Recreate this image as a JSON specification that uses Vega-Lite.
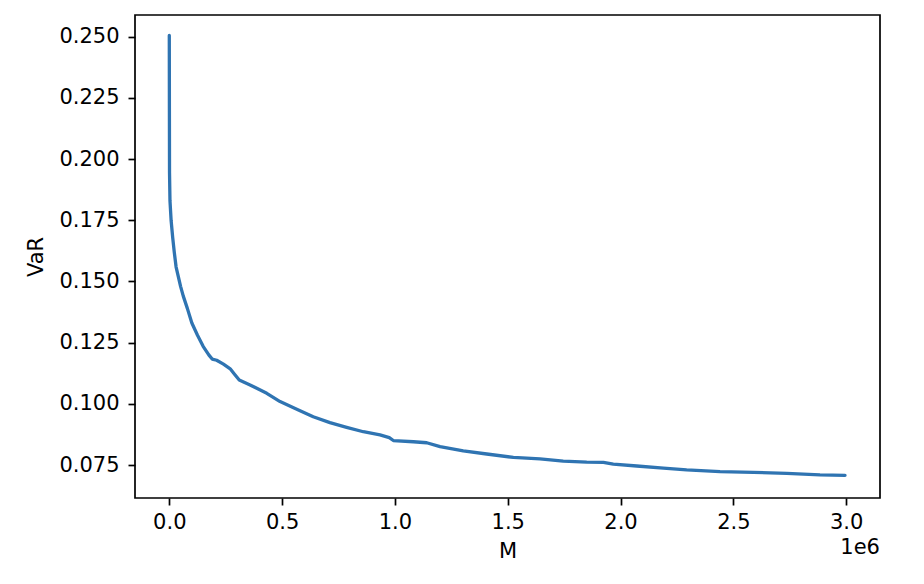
{
  "$schema": "https://vega.github.io/schema/vega-lite/v6.json",
  "autosize": {"type": "none"},
  "width": 745,
  "height": 483,
  "padding": {"left": 135, "top": 15, "right": 44, "bottom": 86},
  "background": "white",
  "config": {
    "view": {"stroke": "black", "strokeWidth": 1.7},
    "font": "DejaVu Sans",
    "axis": {
      "domain": false,
      "grid": false,
      "tickColor": "black",
      "tickSize": 7,
      "tickWidth": 1.7,
      "labelFont": "DejaVu Sans",
      "labelFontSize": 21,
      "labelColor": "#000000",
      "titleFont": "DejaVu Sans",
      "titleFontSize": 21,
      "titleFontWeight": "normal",
      "titleColor": "#000000"
    }
  },
  "title": {
    "text": "1e6",
    "orient": "bottom",
    "anchor": "end",
    "frame": "group",
    "font": "DejaVu Sans",
    "fontSize": 21,
    "fontWeight": "normal",
    "color": "#000000",
    "dy": -28
  },
  "data": {
    "values": [
      {"M": 0, "VaR": 0.2505},
      {"M": 500, "VaR": 0.2200},
      {"M": 1000, "VaR": 0.1945},
      {"M": 3000, "VaR": 0.1830},
      {"M": 8000, "VaR": 0.1750},
      {"M": 15000, "VaR": 0.1680},
      {"M": 22000, "VaR": 0.1620},
      {"M": 30000, "VaR": 0.1560},
      {"M": 40000, "VaR": 0.1520},
      {"M": 50000, "VaR": 0.1480},
      {"M": 62000, "VaR": 0.1440},
      {"M": 80000, "VaR": 0.1390},
      {"M": 100000, "VaR": 0.1330},
      {"M": 125000, "VaR": 0.1280},
      {"M": 150000, "VaR": 0.1235},
      {"M": 175000, "VaR": 0.1200},
      {"M": 190000, "VaR": 0.1183},
      {"M": 210000, "VaR": 0.1178},
      {"M": 240000, "VaR": 0.1162},
      {"M": 270000, "VaR": 0.1143},
      {"M": 290000, "VaR": 0.1120},
      {"M": 310000, "VaR": 0.1097},
      {"M": 358000, "VaR": 0.1077},
      {"M": 432000, "VaR": 0.1043},
      {"M": 491000, "VaR": 0.1009},
      {"M": 565000, "VaR": 0.0978},
      {"M": 638000, "VaR": 0.0947},
      {"M": 712000, "VaR": 0.0923},
      {"M": 786000, "VaR": 0.0904},
      {"M": 860000, "VaR": 0.0886},
      {"M": 934000, "VaR": 0.0873},
      {"M": 975000, "VaR": 0.0862},
      {"M": 993000, "VaR": 0.0850},
      {"M": 1082000, "VaR": 0.0845},
      {"M": 1141000, "VaR": 0.0841},
      {"M": 1200000, "VaR": 0.0825},
      {"M": 1303000, "VaR": 0.0808},
      {"M": 1407000, "VaR": 0.0795},
      {"M": 1525000, "VaR": 0.0781},
      {"M": 1643000, "VaR": 0.0775},
      {"M": 1746000, "VaR": 0.0766},
      {"M": 1850000, "VaR": 0.0762},
      {"M": 1924000, "VaR": 0.0761},
      {"M": 1968000, "VaR": 0.0754},
      {"M": 2072000, "VaR": 0.0746},
      {"M": 2190000, "VaR": 0.0737},
      {"M": 2293000, "VaR": 0.0730},
      {"M": 2441000, "VaR": 0.0723},
      {"M": 2589000, "VaR": 0.0720},
      {"M": 2737000, "VaR": 0.0716},
      {"M": 2884000, "VaR": 0.0710},
      {"M": 2995000, "VaR": 0.0708}
    ]
  },
  "mark": {"type": "line", "color": "#2f74b2", "strokeWidth": 3.3, "strokeJoin": "round", "strokeCap": "round"},
  "encoding": {
    "x": {
      "field": "M",
      "type": "quantitative",
      "scale": {"domain": [-152000, 3150000], "nice": false, "zero": false},
      "axis": {
        "title": "M",
        "values": [0, 500000, 1000000, 1500000, 2000000, 2500000, 3000000],
        "labelExpr": "format(datum.value / 1000000, '.1f')",
        "labelPadding": 6,
        "titlePadding": 8
      }
    },
    "y": {
      "field": "VaR",
      "type": "quantitative",
      "scale": {"domain": [0.06152, 0.25887], "nice": false, "zero": false},
      "axis": {
        "title": "VaR",
        "values": [0.075, 0.1, 0.125, 0.15, 0.175, 0.2, 0.225, 0.25],
        "format": ".3f",
        "labelPadding": 9,
        "titlePadding": 12
      }
    }
  }
}
